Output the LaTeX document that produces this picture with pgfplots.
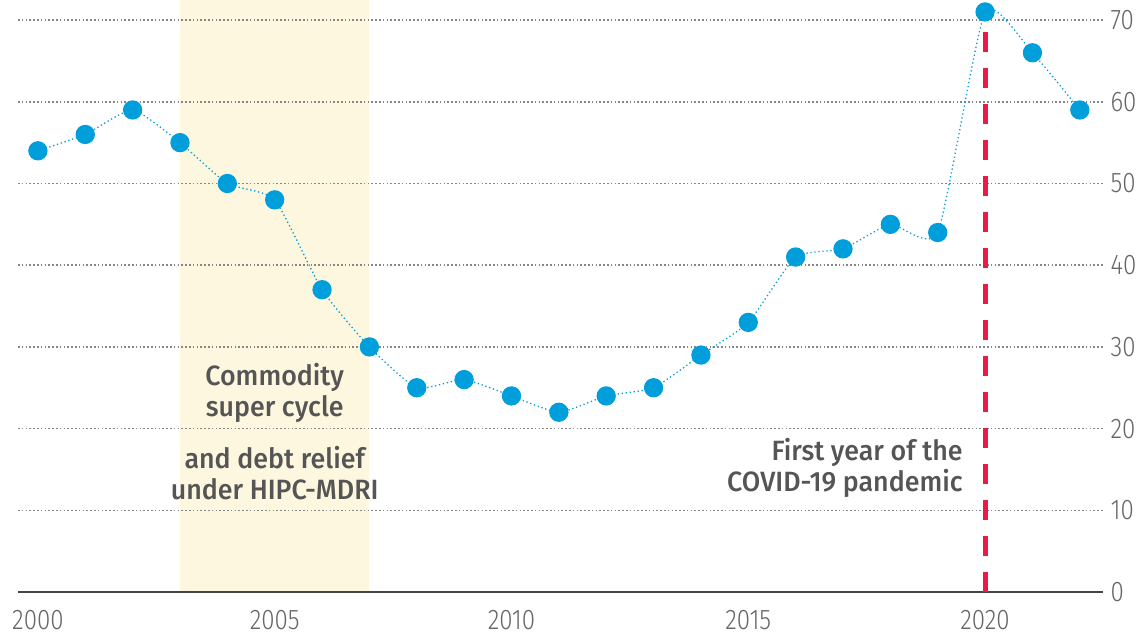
\documentclass[border=0pt]{standalone}
\usepackage{pgfplots}
\pgfplotsset{compat=1.18}
\usepackage{fontspec}
\setmainfont{Fira Sans}
\newfontfamily\tickfont[FakeStretch=0.85]{Fira Sans Light}
\newfontfamily\annfont[FakeStretch=0.96]{Fira Sans Medium}
\definecolor{unblue}{HTML}{009EDB}
\definecolor{covidred}{HTML}{ED1847}
\definecolor{shade}{HTML}{FCF7DE}
\definecolor{gridgray}{HTML}{858585}
\definecolor{textgray}{HTML}{555555}
\definecolor{tickgray}{HTML}{666666}
\definecolor{axisgray}{HTML}{444444}
\begin{document}
\begin{tikzpicture}
\begin{axis}[
  set layers,
  scale only axis, width=1085bp, height=592bp,
  xmin=1999.58, xmax=2022.49, ymin=0, ymax=72.46,
  clip=false,
  axis line style={draw=none},
  major tick length=0pt,
  xtick={2000,2005,2010,2015,2020},
  ytick={10,20,30,40,50,60,70},
  extra y ticks={0},
  extra y tick style={grid style={solid, draw=axisgray, line width=2bp}},
  ymajorgrids,
  grid style={draw=gridgray, line width=1.5bp, dash pattern=on 1.5bp off 2.3bp},
  yticklabel pos=right,
  /pgf/number format/1000 sep={},
  /pgf/number format/assume math mode=true,
  ticklabel style={font=\tickfont\fontsize{28.5}{32}\selectfont, text=tickgray},
  x tick label style={yshift=-15bp},
  y tick label style={xshift=4bp},
]
\addplot[fill=shade, draw=none, on layer=axis background] coordinates {(2003,0) (2003,72.46) (2007,72.46) (2007,0)};
\addplot[covidred, line width=5bp, dash pattern=on 20bp off 16bp] coordinates {(2020,0) (2020,70.5)};
\addplot[unblue, line width=1.3bp, dash pattern=on 1.3bp off 2.7bp, smooth, tension=0.32,
  mark=*, mark size=9bp, mark options={solid, fill=unblue, draw=none}] coordinates {
(2000,54) (2001,56) (2002,59) (2003,55) (2004,50) (2005,48) (2006,37) (2007,30)
(2008,25) (2009,26) (2010,24) (2011,22) (2012,24) (2013,25) (2014,29) (2015,33)
(2016,41) (2017,42) (2018,45) (2019,44) (2020,71) (2021,66) (2022,59)};
\node[font=\annfont\fontsize{28}{31}\selectfont, text=textgray, align=center] at (axis cs:2005,24.35) {Commodity\\super cycle};
\node[font=\annfont\fontsize{28}{31}\selectfont, text=textgray, align=center] at (axis cs:2005,14.5) {and debt relief\\under HIPC-MDRI};
\node[font=\annfont\fontsize{28}{31}\selectfont, text=textgray, align=right, anchor=east] at (axis cs:2019.6,15.15) {First year of the\\COVID-19 pandemic};
\end{axis}
\pgfresetboundingbox
\path[use as bounding box] (-18bp,-44bp) rectangle (1128bp,592bp);
\end{tikzpicture}
\end{document}
